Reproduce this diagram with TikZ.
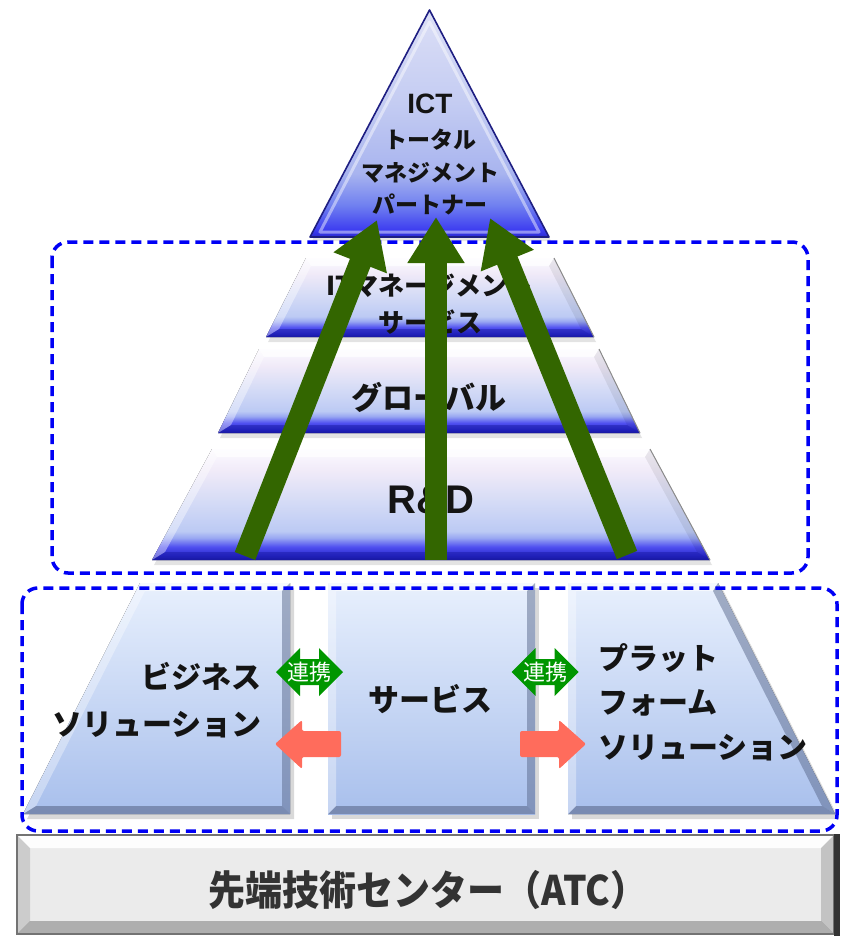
\documentclass[tikz,border=0pt]{standalone}
\usepackage{fontspec}
\setmainfont{Noto Sans CJK JP}
\newfontfamily\latf{Liberation Sans}
\usetikzlibrary{arrows.meta,shadows}
\definecolor{dashblue}{RGB}{0,0,245}
\definecolor{arrgreen}{RGB}{51,102,0}
\definecolor{linkgreen}{RGB}{0,150,0}
\definecolor{salmonc}{RGB}{255,108,92}
\definecolor{navyc}{RGB}{30,30,130}
\definecolor{bartext}{RGB}{51,51,51}
% tier shading
\definecolor{t0}{RGB}{24,24,160}
\definecolor{t1}{RGB}{40,40,208}
\definecolor{t2}{RGB}{80,80,240}
\definecolor{t3}{RGB}{154,168,242}
\definecolor{t4}{RGB}{188,202,244}
\definecolor{t5}{RGB}{214,220,246}
\definecolor{t6}{RGB}{240,234,248}
\definecolor{t7}{RGB}{252,250,255}
\pgfdeclareverticalshading{tiershade}{100bp}{color(0bp)=(t0); color(25bp)=(t0); color(27bp)=(t1); color(31bp)=(t2); color(35bp)=(t3); color(38bp)=(t4); color(52bp)=(t5); color(65bp)=(t6); color(75bp)=(t7); color(100bp)=(t7)}
% triangle shading
\definecolor{p0}{RGB}{42,42,208}
\definecolor{p1}{RGB}{60,60,240}
\definecolor{p2}{RGB}{112,128,240}
\definecolor{p3}{RGB}{168,180,239}
\definecolor{p4}{RGB}{196,204,242}
\definecolor{p5}{RGB}{220,223,246}
\pgfdeclareverticalshading{trishade}{100bp}{color(0bp)=(p0); color(25bp)=(p0); color(26.5bp)=(p1); color(32bp)=(p2); color(39bp)=(p3); color(54.5bp)=(p4); color(75bp)=(p5); color(100bp)=(p5)}
\definecolor{blktop}{RGB}{232,240,253}
\definecolor{blkbot}{RGB}{168,191,236}
\definecolor{blkedge}{RGB}{90,105,140}
\definecolor{barfill}{RGB}{235,235,235}

\tikzset{
  ftop/.style={fill=white,fill opacity=.75},
  fright/.style={fill=black,fill opacity=.18},
  fbot/.style={fill=black,fill opacity=.3},
  fleft/.style={fill=white,fill opacity=.4},
}
\newcommand\facets[8]{%
  \fill[ftop] #1 -- #2 -- #6 -- #5 -- cycle;
  \fill[fright] #2 -- #3 -- #7 -- #6 -- cycle;
  \fill[fbot] #3 -- #4 -- #8 -- #7 -- cycle;
  \fill[fleft] #4 -- #1 -- #5 -- #8 -- cycle;}

\begin{document}
\begin{tikzpicture}[x=1pt,y=-1pt,
  dashbox/.style={draw=dashblue, line width=3.5pt, dash pattern=on 10pt off 6pt, rounded corners=16pt},
  tier/.style={shading=tiershade, drop shadow={opacity=0.22, shadow xshift=2pt, shadow yshift=-5pt}},
  tierfacets/.style={fbot/.style={fill=t0,fill opacity=.45}, fright/.style={fill=black,fill opacity=.07}},
  block/.style={top color=blktop, bottom color=blkbot, drop shadow={opacity=0.3, shadow xshift=4pt, shadow yshift=-5pt}},
  txt/.style={inner sep=0pt, text=black!92},
  garrow/.style={draw=arrgreen, line width=22pt, -{Triangle[length=46pt,width=54pt]}},
  salmonarrow/.style={fill=salmonc, rounded corners=2pt},
  linkarrow/.style={fill=linkgreen},
]
\useasboundingbox (0,0) rectangle (840,936);

% ---------- upper pyramid ----------
\fill[tier] (212,449) -- (650,449) -- (710,560) -- (152,560) -- cycle;
\begin{scope}[tierfacets]
\facets{(212,449)}{(650,449)}{(710,560)}{(152,560)}{(217,457)}{(645,457)}{(697,552)}{(165,552)}
\draw[black!45, line width=1pt] (650,449) -- (710,560);
\end{scope}
\fill[tier] (259,349) -- (599,349) -- (640,433) -- (218,433) -- cycle;
\begin{scope}[tierfacets]
\facets{(259,349)}{(599,349)}{(640,433)}{(218,433)}{(264,357)}{(594,357)}{(627,425)}{(231,425)}
\draw[black!45, line width=1pt] (599,349) -- (640,433);
\end{scope}
\fill[tier] (306,258) -- (554,258) -- (594,337) -- (266,337) -- cycle;
\begin{scope}[tierfacets]
\facets{(306,258)}{(554,258)}{(594,337)}{(266,337)}{(311,266)}{(549,266)}{(581,329)}{(279,329)}
\draw[black!45, line width=1pt] (554,258) -- (594,337);
\end{scope}

% top triangle
\fill[shading=trishade, drop shadow={opacity=0.2, shadow xshift=2pt, shadow yshift=-4pt}] (429.5,10) -- (549,237) -- (310,237) -- cycle;
\draw[white, opacity=.45, line width=3pt, line join=round] (429.5,22) -- (539,232) -- (320,232) -- cycle;
\draw[navyc, line width=1.6pt, line join=round] (429.5,10) -- (549,237) -- (310,237) -- cycle;

% ---------- bottom blocks ----------
\begin{scope}[ftop/.style={fill=white,fill opacity=.6}, fleft/.style={fill=white,fill opacity=.35},
  fright/.style={fill=blkedge,fill opacity=.5}, fbot/.style={fill=blkedge,fill opacity=.6}]
\fill[block] (140,583) -- (290,583) -- (290,814) -- (23,814) -- cycle;
\facets{(140,583)}{(290,583)}{(290,814)}{(23,814)}{(145,591)}{(282,591)}{(282,806)}{(36,806)}
\fill[block] (328,583) -- (535,583) -- (535,814) -- (328,814) -- cycle;
\facets{(328,583)}{(535,583)}{(535,814)}{(328,814)}{(336,591)}{(527,591)}{(527,806)}{(336,806)}
\fill[block] (568,583) -- (718,583) -- (835,814) -- (568,814) -- cycle;
\facets{(568,583)}{(718,583)}{(835,814)}{(568,814)}{(576,591)}{(713,591)}{(822,806)}{(576,806)}
\end{scope}

% ---------- base bar ----------
\fill[barfill] (17,835) rectangle (834,934);
\begin{scope}[ftop/.style={fill=white,fill opacity=.95}, fleft/.style={fill=black,fill opacity=.13},
  fright/.style={fill=black,fill opacity=.17}, fbot/.style={fill=black,fill opacity=.26}]
\facets{(17,835)}{(834,835)}{(834,934)}{(17,934)}{(30,848)}{(821,848)}{(821,921)}{(30,921)}
\end{scope}
\draw[black!55, line width=2.5pt] (17,835) rectangle (834,934);
\fill[black!80] (834,834) rectangle (840,936);

% ---------- dashed groups ----------
\draw[dashbox] (52,242) rectangle (808,573);
\draw[dashbox] (22,588) rectangle (837,831);

% ---------- texts ----------
\node[txt, anchor=base, font=\latf\bfseries\fontsize{28pt}{30pt}\selectfont] (tICT) at (430,114) {ICT};
\node[txt, anchor=base, font=\bfseries\fontsize{23pt}{26pt}\selectfont] (tTotal) at (430,148.7) {トータル};
\node[txt, anchor=base, font=\bfseries\fontsize{23pt}{26pt}\selectfont] (tMgmt) at (430,181.7) {マネジメント};
\node[txt, anchor=base, font=\bfseries\fontsize{23pt}{26pt}\selectfont] (tPartner) at (430,213.7) {パートナー};

\node[txt, anchor=base, font=\bfseries\fontsize{26pt}{30pt}\selectfont] (tITm) at (430,295) {ITマネージメント};
\node[txt, anchor=base, font=\bfseries\fontsize{26pt}{30pt}\selectfont] (tITs) at (430,332) {サービス};
\node[txt, anchor=base, font=\bfseries\fontsize{31pt}{34pt}\selectfont] (tGlobal) at (429,409.8) {グローバル};
\node[txt, anchor=base, font=\latf\bfseries\fontsize{40pt}{44pt}\selectfont] (tRD) at (431,513.3) {R\&D};

\node[txt, anchor=base east, font=\bfseries\fontsize{30pt}{34pt}\selectfont] (tBiz1) at (262,688.4) {ビジネス};
\node[txt, anchor=base east, font=\bfseries\fontsize{30pt}{34pt}\selectfont] (tBiz2) at (262,735.4) {ソリューション};
\node[txt, anchor=base, font=\bfseries\fontsize{31pt}{34pt}\selectfont] (tSvc) at (430,711.8) {サービス};
\node[txt, anchor=base west, font=\bfseries\fontsize{30pt}{34pt}\selectfont] (tPf1) at (598,669.4) {プラット};
\node[txt, anchor=base west, font=\bfseries\fontsize{30pt}{34pt}\selectfont] (tPf2) at (598,713.4) {フォーム};
\node[txt, anchor=base west, font=\bfseries\fontsize{30pt}{34pt}\selectfont] (tPf3) at (598,758.4) {ソリューション};

\node[inner sep=0pt, anchor=base, text=bartext, font=\bfseries\fontsize{37pt}{40pt}\selectfont] (tATC) at (428,905.5) {\scalebox{1}[1.1]{先端技術センター（ATC）}};

% ---------- link arrows ----------
\coordinate (lkL) at (309.5,672);
\coordinate (lkR) at (545,672);
\foreach \c in {lkL,lkR}{
  \fill[linkarrow, shift={(\c)}] (-33.5,0) -- (-9.5,-24) -- (-9.5,-13) -- (9.5,-13) -- (9.5,-24) -- (33.5,0) -- (9.5,24) -- (9.5,13) -- (-9.5,13) -- (-9.5,24) -- cycle;
}
\node[inner sep=0pt, anchor=base, text=white, font=\fontsize{22pt}{24pt}\selectfont] (tLinkL) at (309.5,680.4) {連携};
\node[inner sep=0pt, anchor=base, text=white, font=\fontsize{22pt}{24pt}\selectfont] (tLinkR) at (545,680.4) {連携};

% salmon arrows
\fill[salmonarrow] (275,744) -- (302,720) -- (302,731) -- (341,731) -- (341,757) -- (302,757) -- (302,769) -- cycle;
\fill[salmonarrow] (586,744) -- (559,720) -- (559,731) -- (520,731) -- (520,757) -- (559,757) -- (559,769) -- cycle;

% ---------- green arrows ----------
\coordinate (gL0) at (245,556);
\coordinate (gL1) at (377,220);
\coordinate (gM0) at (436,560);
\coordinate (gM1) at (436,217);
\coordinate (gR0) at (627,555);
\coordinate (gR1) at (490,218);
\draw[garrow] (gL0) -- (gL1);
\draw[garrow] (gM0) -- (gM1);
\draw[garrow] (gR0) -- (gR1);
\end{tikzpicture}
\end{document}
